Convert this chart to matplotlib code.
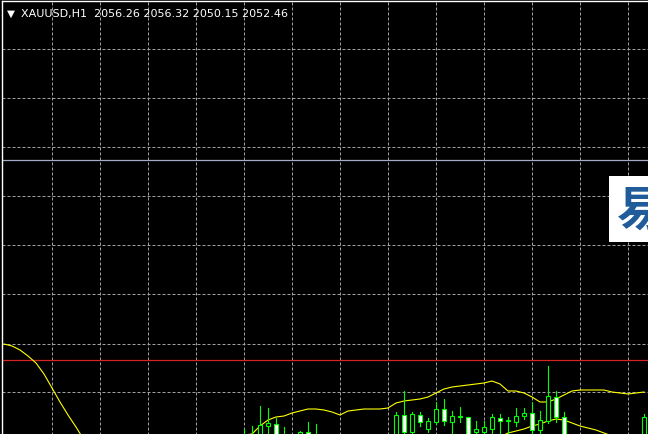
import matplotlib.pyplot as plt
from matplotlib.patches import Rectangle

# --------------------------------
# Chart data (XAUUSD H1)
# --------------------------------

title_text = "XAUUSD,H1  2056.26 2056.32 2050.15 2052.46"

# upper band, one value per bar (bars 0..80)
band_upper = [2065.5, 2065.3, 2064.9, 2064.3, 2063.6, 2062.5, 2061.1, 2059.7, 2058.4, 2057.2,
              2055.9, 2054.8, 2053.9, 2053.2, 2052.8, 2052.5, 2052.4, 2052.4, 2052.6, 2052.9,
              2053.3, 2053.7, 2054.1, 2054.5, 2054.9, 2055.2, 2055.5, 2055.8, 2056.0, 2056.2,
              2056.4, 2056.5, 2057.3, 2057.9, 2058.2, 2058.3, 2058.6, 2058.8, 2059.0, 2059.0,
              2058.9, 2058.7, 2058.4, 2058.8, 2058.9, 2059.0, 2059.0, 2059.0, 2059.1, 2059.6,
              2059.8, 2059.9, 2060.0, 2060.2, 2060.6, 2061.0, 2061.2, 2061.3, 2061.4, 2061.5,
              2061.6, 2061.8, 2061.5, 2060.8, 2060.8, 2060.6, 2060.2, 2059.7, 2059.7, 2060.0,
              2060.4, 2060.8, 2060.9, 2060.9, 2060.9, 2060.9, 2060.7, 2060.6, 2060.5, 2060.6,
              2060.7]

# lower band, bars 60..80
lower_idx = list(range(60, 81))
band_lower = [2055.6, 2055.9, 2056.2, 2056.6, 2056.8, 2057.0, 2057.3, 2057.5, 2057.8, 2058.0,
              2057.9, 2057.6, 2057.3, 2057.1, 2056.9, 2056.6, 2056.3, 2056.0, 2055.7, 2055.4,
              2055.2]

# candles
candle_idx = [30, 31, 32, 33, 34, 35, 37, 38, 39, 49, 50, 51, 52, 53, 54, 55, 56, 57, 58,
              59, 60, 61, 62, 63, 64, 65, 66, 67, 68, 69, 70, 80]
c_open = [2055.0, 2055.8, 2054.8, 2057.3, 2057.5, 2056.0, 2055.2, 2056.7, 2056.2, 2055.6,
          2058.4, 2056.7, 2058.4, 2057.0, 2057.7, 2059.0, 2057.7, 2058.3, 2058.2, 2056.7,
          2056.7, 2057.0, 2058.1, 2057.8, 2057.7, 2058.3, 2058.6, 2056.9, 2057.8, 2060.2,
          2058.2, 2055.0]
c_high = [2057.0, 2057.3, 2059.3, 2059.1, 2058.1, 2057.2, 2056.8, 2057.7, 2057.5, 2058.7,
          2060.8, 2058.7, 2058.7, 2058.1, 2059.7, 2060.0, 2058.8, 2059.2, 2058.2, 2057.8,
          2057.8, 2058.5, 2058.5, 2058.2, 2059.1, 2059.1, 2059.7, 2058.8, 2063.3, 2060.8,
          2058.7, 2058.5]
c_low = [2054.2, 2054.6, 2054.2, 2055.0, 2054.6, 2054.8, 2054.9, 2055.0, 2054.9, 2055.2,
         2056.4, 2056.4, 2057.3, 2056.7, 2057.5, 2057.4, 2056.2, 2057.7, 2055.2, 2056.5,
         2056.3, 2056.5, 2056.0, 2056.0, 2057.3, 2058.0, 2056.0, 2056.0, 2057.6, 2057.7,
         2055.2, 2054.6]
c_close = [2055.6, 2055.2, 2057.4, 2057.6, 2055.2, 2055.4, 2056.7, 2055.6, 2055.4, 2058.4,
           2056.7, 2058.5, 2057.7, 2057.8, 2059.0, 2057.8, 2058.3, 2058.2, 2055.6, 2057.0,
           2057.2, 2058.2, 2057.8, 2057.9, 2058.3, 2058.6, 2056.9, 2057.9, 2060.3, 2058.2,
           2055.6, 2058.2]

red_level = 2063.9
blue_level = 2083.9

grid_prices = [2060.7, 2065.5, 2070.5, 2075.4, 2080.3, 2085.2, 2090.1, 2095.0]
grid_bars = list(range(6, 80, 6))


# --------------------------------
# Plot
# --------------------------------

fig = plt.figure(figsize=(6.48, 4.35), dpi=100, facecolor="black")
# axes runs past the bottom edge, so the window cuts the bars like the terminal does
ax = fig.add_axes([2 / 648, -150 / 435, 646 / 648, 583 / 435])
ax.set_facecolor("black")

ax.set_xlim(-0.25, 80.5)
ax.set_ylim(2041.5, 2099.8)

ax.set_xticks(grid_bars)
ax.set_yticks(grid_prices)
ax.tick_params(length=0, labelbottom=False, labelleft=False)
ax.grid(True, color="#a0a0a0", linewidth=0.72, linestyle=(0, (3, 2)))
ax.set_axisbelow(True)

for side in ["right", "bottom"]:
    ax.spines[side].set_visible(False)
for side in ["left", "top"]:
    ax.spines[side].set_color("white")
    ax.spines[side].set_linewidth(1.0)

ax.axhline(blue_level, color="#a4aac8", linewidth=0.9, zorder=2)
ax.axhline(red_level, color="#d42424", linewidth=0.9, zorder=2)

ax.plot(range(len(band_upper)), band_upper, color="#ffff00", linewidth=0.8, zorder=3)
ax.plot(lower_idx, band_lower, color="#ffff00", linewidth=0.8, zorder=3)

for i, o, h, l, c in zip(candle_idx, c_open, c_high, c_low, c_close):
    ax.plot([i, i], [l, h], color="#00ff00", linewidth=0.8, zorder=4)
    face = "black" if c >= o else "white"
    lo, hi = min(o, c), max(o, c)
    ax.add_patch(Rectangle((i - 0.25, lo), 0.5, max(hi - lo, 0.05),
                           facecolor=face, edgecolor="#00ff00",
                           linewidth=0.8, zorder=5))

# title line
fig.text(7 / 648, 1 - 17 / 435, "\u25bc", color="white", fontsize=7.5, va="baseline")
fig.text(21 / 648, 1 - 17 / 435, title_text, color="white", fontsize=8,
         family="DejaVu Sans", va="baseline")

# logo box at right edge
fig.add_artist(Rectangle((609 / 648, 1 - 243 / 435), 39 / 648, 66 / 435,
                         transform=fig.transFigure, facecolor="white",
                         edgecolor="none", zorder=1))
fig.text(617 / 648, 1 - 211 / 435, "易", color="#1f5c99", fontsize=35,
         family=["Noto Sans CJK SC", "DejaVu Sans"], weight="bold",
         va="center", ha="left", zorder=2)

fig.savefig("out.png", dpi=100, facecolor="black")
